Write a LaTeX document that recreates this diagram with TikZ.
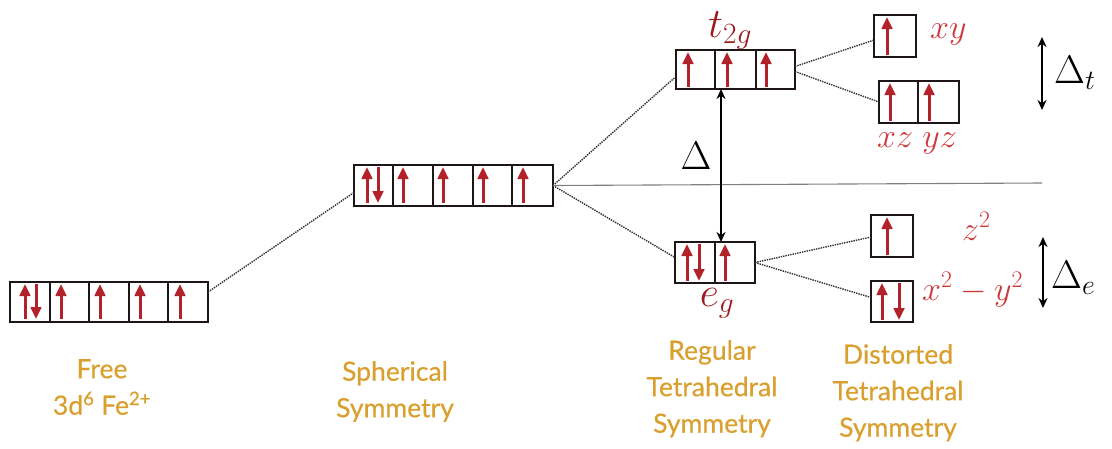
\RequirePackage{fix-cm}
\documentclass[tikz,border=0pt]{standalone}
\usepackage{fontspec}
\usetikzlibrary{arrows.meta}
\newfontfamily\labelfont[FakeBold=0.5]{Lato}
\definecolor{ered}{HTML}{B3222A}
\definecolor{lred}{HTML}{CC3A3E}
\definecolor{dred}{HTML}{9B1B1F}
\definecolor{gold}{HTML}{D9A02F}
\definecolor{boxk}{HTML}{1E1616}
\begin{document}
\begin{tikzpicture}[x=1pt,y=-1pt,
  obox/.style={draw=boxk,line width=2.8pt,inner sep=0pt,outer sep=0pt,anchor=north west},
  div/.style={draw=boxk,line width=2.3pt},
  eup/.style={draw=ered,line width=3pt,-{Triangle[length=12pt,width=10.5pt]}},
  link/.style={draw=black!80,line width=1.4pt,densely dotted},
  hline/.style={draw=black!50,line width=1.1pt},
  darr/.style={draw=black,line width=1.8pt,{Stealth[length=10pt,width=9pt]}-{Stealth[length=10pt,width=9pt]}},
  lvl/.style={font=\labelfont\fontsize{26.5}{36.5}\selectfont,text=gold,align=center,anchor=north,inner sep=0pt},
  mlab/.style={text=lred,font=\fontsize{34}{40}\selectfont,inner sep=0pt},
  dlab/.style={text=black,font=\fontsize{40}{46}\selectfont,inner sep=0pt},
  glab/.style={text=dred,font=\fontsize{42}{48}\selectfont,inner sep=0pt,anchor=base}]
\useasboundingbox (0,0) rectangle (1112,448);

% ---------- free ion ----------
\node[obox,minimum width=198pt,minimum height=40pt] (free) at (10,282) {};
\foreach \x in {50,89,129,168} \draw[div] (\x,282) -- (\x,322);
\draw[eup] (25,319) -- (25,284);
\draw[eup] (36,284) -- (36,319);
\foreach \x in {61,100,140,180} \draw[eup] (\x,319) -- (\x,284);

% ---------- spherical ----------
\node[obox,minimum width=199pt,minimum height=41pt] (sph) at (354,165) {};
\foreach \x in {393,433,473,512} \draw[div] (\x,165) -- (\x,206);
\draw[eup] (367,203) -- (367,167);
\draw[eup] (378,167) -- (378,203);
\foreach \x in {403,443,483,523} \draw[eup] (\x,203) -- (\x,167);

% ---------- t2g ----------
\node[obox,minimum width=119pt,minimum height=39pt] (t2g) at (676,50) {};
\foreach \x in {715,756} \draw[div] (\x,50) -- (\x,89);
\foreach \x in {688,727,766} \draw[eup] (\x,87) -- (\x,52);

% ---------- eg ----------
\node[obox,minimum width=80pt,minimum height=41pt] (eg) at (675,242) {};
\draw[div] (715,242) -- (715,283);
\draw[eup] (687,281) -- (687,244);
\draw[eup] (699,244) -- (699,281);
\draw[eup] (725,281) -- (725,244);

% ---------- distorted ----------
\node[obox,minimum width=42pt,minimum height=42pt] (xy) at (874,15) {};
\draw[eup] (887,55) -- (887,17);
\node[obox,minimum width=80pt,minimum height=42pt] (xz) at (879,81) {};
\draw[div] (918,81) -- (918,123);
\draw[eup] (890,121) -- (890,83);
\draw[eup] (929,121) -- (929,83);
\node[obox,minimum width=42pt,minimum height=42pt] (z2) at (871,215) {};
\draw[eup] (887,255) -- (887,217);
\node[obox,minimum width=42pt,minimum height=41pt] (x2y2) at (871,281) {};
\draw[eup] (882,320) -- (882,283);
\draw[eup] (899,283) -- (899,320);

% ---------- dotted correlation lines ----------
\draw[link] ([yshift=10pt]free.east) -- ([yshift=-7pt]sph.west);
\draw[link] (sph.east) -- ([yshift=-7pt]t2g.west);
\draw[link] (sph.east) -- ([yshift=5pt]eg.west);
\draw[link] ([yshift=3pt]t2g.east) -- ([yshift=-4pt]xy.west);
\draw[link] ([yshift=-2pt]t2g.east) -- (xz.west);
\draw[link] (eg.east) -- ([yshift=-1pt]z2.west);
\draw[link] (eg.east) -- ([yshift=4pt]x2y2.west);

% ---------- reference line ----------
\coordinate (hend) at (1042,183);
\draw[hline] (sph.east) -- (hend);

% ---------- splitting arrows ----------
\draw[darr] ([xshift=-14.5pt]t2g.south) -- ([xshift=6pt]eg.north);
\coordinate (dt1) at (1042,37);
\coordinate (dt2) at (1042,110);
\draw[darr] (dt1) -- (dt2);
\coordinate (de1) at (1043,237);
\coordinate (de2) at (1043,308);
\draw[darr] (de1) -- (de2);

% ---------- math labels ----------
\node[glab] (lt2g) at (730,37) {$t_{2g}$};
\node[glab] (leg) at (717,306) {$e_g$};
\node[dlab,anchor=base] (ldel) at (696,169) {$\Delta$};
\node[dlab,anchor=base west] (ldt) at (1054,83) {$\Delta_t$};
\node[dlab,anchor=base west] (lde) at (1051,288) {$\Delta_e$};
\node[mlab,anchor=base west] (lxy) at (930,38) {$xy$};
\node[mlab,anchor=base] (lxz) at (917,147) {$xz\;yz$};
\node[mlab,anchor=base west] (lz2) at (962,240) {$z^2$};
\node[mlab,anchor=base west] (lx2) at (922,300) {$x^2-y^2$};

% ---------- stage labels ----------
\node[lvl] (sfree) at (102,359) {Free\\3d\textsuperscript{6} Fe\textsuperscript{2+}};
\node[lvl] (ssph) at (395,361) {Spherical\\Symmetry};
\node[lvl] (sreg) at (712,340) {Regular\\Tetrahedral\\Symmetry};
\node[lvl] (sdis) at (898,344) {Distorted\\Tetrahedral\\Symmetry};
\end{tikzpicture}
\end{document}
